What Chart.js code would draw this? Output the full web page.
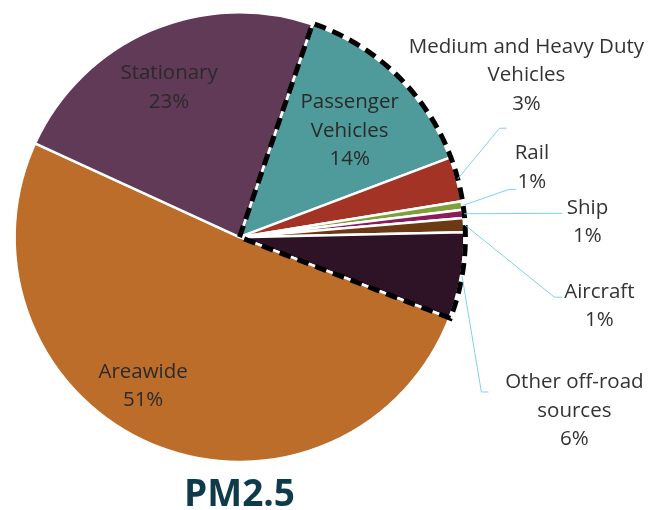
<!DOCTYPE html>
<html>
<head>
<meta charset="utf-8">
<script src="https://cdn.jsdelivr.net/npm/chart.js@4"></script>
<style>
  html, body { margin: 0; padding: 0; background: #fff; }
  #wrap { width: 665px; height: 510px; }
</style>
</head>
<body>
<div id="wrap"><canvas id="pm25"></canvas></div>
<script>
const categories = ['Passenger Vehicles', 'Medium and Heavy Duty Vehicles', 'Rail', 'Ship',
    'Aircraft', 'Other off-road sources', 'Areawide', 'Stationary'];
const shares = [14.0, 3.2, 0.6, 0.6, 1.0, 6.2, 51.0, 23.4];
const labelLines = [['Passenger', 'Vehicles'], ['Medium and Heavy Duty', 'Vehicles'], ['Rail'], ['Ship'],
    ['Aircraft'], ['Other off-road', 'sources'], ['Areawide'], ['Stationary']];
const sliceColors = ['#4f9a9b', '#a33425', '#7f9f3b', '#8c1b5b', '#6b3a14', '#2e1226', '#bd6d2a', '#603a57'];
// slices 0..5 are the mobile sources, outlined with the dashed line
const groupFirst = 0;
const groupLast = 5;

// label placement: inside labels are polar (fraction of radius, angle tweak in degrees),
// outside labels sit at an offset from the centre in radius units with a leader line
const labelStyle = [
    { inside: true, k: 0.68, da: 2 },
    { x: 1.276, y: -0.72, elbow: [-27, 53], end: [-20, 53] },
    { x: 1.30, y: -0.31, elbow: [-23, 22], end: [-16, 22] },
    { x: 1.547, y: -0.066, elbow: [-25, -9], end: [-25, -9] },
    { x: 1.60, y: 0.307, elbow: [-45, -9], end: [-37, -9] },
    { x: 1.489, y: 0.773, elbow: [-93, -19], end: [-86, -19] },
    { inside: true, k: 0.79, da: 10 },
    { inside: true, k: 0.735, da: -2 }
];

const FONT = '20.5px "Open Sans", "Noto Sans", sans-serif';
const LINE_H = 28.5;

const groupOutline = {
    id: 'groupOutline',
    afterDatasetsDraw(chart) {
        const ctx = chart.ctx;
        const arcs = chart.getDatasetMeta(0).data;
        const a0 = arcs[groupFirst], a1 = arcs[groupLast];
        const r = a0.outerRadius + 1;
        ctx.save();
        ctx.strokeStyle = '#000';
        ctx.lineWidth = 5;
        ctx.setLineDash([12, 7]);
        ctx.beginPath();
        ctx.moveTo(a0.x, a0.y);
        ctx.lineTo(a0.x + r * Math.cos(a0.startAngle), a0.y + r * Math.sin(a0.startAngle));
        ctx.arc(a0.x, a0.y, r, a0.startAngle, a1.endAngle);
        ctx.lineTo(a0.x, a0.y);
        ctx.stroke();
        ctx.restore();
    }
};

const sliceLabels = {
    id: 'sliceLabels',
    afterDraw(chart) {
        const ctx = chart.ctx;
        const arcs = chart.getDatasetMeta(0).data;
        const total = shares.reduce((a, b) => a + b, 0);
        ctx.save();
        ctx.font = FONT;
        ctx.textAlign = 'center';
        ctx.textBaseline = 'middle';
        arcs.forEach((arc, i) => {
            const st = labelStyle[i];
            const R = arc.outerRadius;
            const mid = (arc.startAngle + arc.endAngle) / 2;
            const lines = labelLines[i].concat([Math.round(shares[i] / total * 100) + '%']);
            let cx, cy;
            if (st.inside) {
                const ang = mid + st.da * Math.PI / 180;
                cx = arc.x + st.k * R * Math.cos(ang);
                cy = arc.y + st.k * R * Math.sin(ang);
                ctx.fillStyle = '#2a2a2a';
            } else {
                cx = arc.x + st.x * R;
                cy = arc.y + st.y * R;
                ctx.strokeStyle = '#7fd0ef';
                ctx.lineWidth = 1;
                ctx.beginPath();
                ctx.moveTo(arc.x + (R + 1) * Math.cos(mid), arc.y + (R + 1) * Math.sin(mid));
                ctx.lineTo(cx + st.elbow[0], cy + st.elbow[1]);
                ctx.lineTo(cx + st.end[0], cy + st.end[1]);
                ctx.stroke();
                ctx.fillStyle = '#333333';
            }
            const top = cy - (lines.length - 1) * LINE_H / 2;
            lines.forEach((t, j) => ctx.fillText(t, cx, top + j * LINE_H));
        });
        ctx.restore();
    }
};

new Chart(document.getElementById('pm25'), {
    type: 'pie',
    data: {
        labels: categories,
        datasets: [{
            data: shares,
            backgroundColor: sliceColors,
            borderColor: '#ffffff',
            borderWidth: 2.5
        }]
    },
    options: {
        responsive: true,
        maintainAspectRatio: false,
        animation: false,
        events: [],
        rotation: 18.9,
        layout: {
            padding: { left: 13, top: 11, right: 199, bottom: 0 }
        },
        plugins: {
            legend: { display: false },
            tooltip: { enabled: false },
            title: {
                display: true,
                text: 'PM2.5',
                position: 'bottom',
                fullSize: false,
                color: '#0f3a4b',
                font: { size: 37, weight: 'bold', family: '"Open Sans", "Noto Sans", sans-serif', lineHeight: 0.776 },
                padding: { top: 18, bottom: 0 }
            }
        }
    },
    plugins: [groupOutline, sliceLabels]
});
</script>
</body>
</html>
